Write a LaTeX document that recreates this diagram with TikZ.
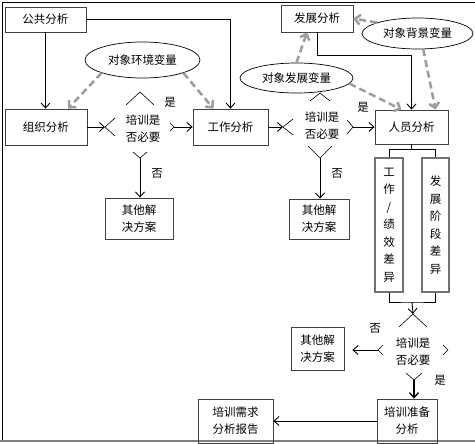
\documentclass[tikz,border=0pt]{standalone}
\usepackage{fontspec}
\newfontfamily\cjk{Noto Sans CJK SC}
\usetikzlibrary{arrows.meta,shapes.geometric,calc}
\begin{document}
\begin{tikzpicture}[x=1pt,y=-1pt,
  every node/.style={font=\cjk\fontsize{11.5}{17}\selectfont, inner sep=0pt},
  box/.style={draw=black!75, line width=0.8pt, align=center},
  vbox/.style={draw=black!55, line width=1.2pt, align=center, font=\cjk\fontsize{11.5}{17.5}\selectfont},
  ell/.style={draw=black, line width=0.7pt, ellipse},
  arr/.style={draw=black, line width=0.9pt, -{Straight Barb[length=5pt,width=9pt]}},
  dasharr/.style={draw=black!38, line width=2.6pt, dash pattern=on 7pt off 4pt, -{Straight Barb[length=5pt,width=10pt]}},
  corner/.style={draw=black, line width=0.6pt},
  frame/.style={draw=black, line width=0.9pt}]
\useasboundingbox (0,0) rectangle (475,444);
% frame
\draw[frame] (475,2) -- (2,2) -- (2,441);
\draw[draw=black!50, line width=2.6pt] (0,441) -- (475,441);

% boxes
\node[box, minimum width=81pt, minimum height=25pt] (gg) at (45.5,19.5) {公共分析};
\node[box, minimum width=82pt, minimum height=36pt] (zz) at (46,127) {组织分析};
\node[box, minimum width=75pt, minimum height=36pt] (gz) at (230.5,127) {工作分析};
\node[box, minimum width=72pt, minimum height=27pt] (fz) at (317,18.5) {发展分析};
\node[box, minimum width=73pt, minimum height=34pt] (ry) at (411.5,127) {人员分析};
\node[box, minimum width=68pt, minimum height=41pt] (q1) at (139,218.5) {其他解\\决方案};
\node[box, minimum width=60pt, minimum height=40pt] (q2) at (319,219) {其他解\\决方案};
\node[box, minimum width=53pt, minimum height=43pt] (q3) at (317.5,348.5) {其他解\\决方案};
\node[vbox, minimum width=28pt, minimum height=134pt] (v1) at (389,225) {工\\作\\/\\绩\\效\\差\\异};
\node[vbox, minimum width=27pt, minimum height=134pt] (v2) at (435.5,225) {发\\展\\阶\\段\\差\\异};
\node[box, minimum width=60pt, minimum height=44pt] (zb) at (407,421) {培训准备\\分析};
\node[box, minimum width=75pt, minimum height=44pt] (bg) at (235.5,421) {培训需求\\分析报告};

% ellipses
\node[ell, minimum width=115pt, minimum height=36pt] (e1) at (142.5,60) {对象环境变量};
\node[ell, minimum width=111pt, minimum height=31pt] (e2) at (417.5,33.5) {对象背景变量};
\node[ell, minimum width=113pt, minimum height=30pt] (e3) at (296.5,78) {对象发展变量};

% diamonds (text + corner marks)
\node[align=center] (d1) at (143,129) {培训是\\否必要};
\node[align=center] (d2) at (322,125.5) {培训是\\否必要};
\node[align=center] (d3) at (413,351.5) {培训是\\否必要};
\coordinate (d1t) at (140,92);  \coordinate (d1l) at (105,127);
\coordinate (d1b) at (140,158); \coordinate (d1r) at (174,127);
\coordinate (d2t) at (320,93);  \coordinate (d2l) at (283,127);
\coordinate (d2b) at (320,158); \coordinate (d2r) at (353,127);
\coordinate (d3t) at (413,314); \coordinate (d3l) at (378,350);
\coordinate (d3b) at (414,380); \coordinate (d3r) at (448,350);

\draw[corner] ($(d1t)+(-14,13)$) -- (d1t) -- ($(d1t)+(14,13)$);
\draw[corner] ($(d1l)+(10,-9)$) -- (d1l) -- ($(d1l)+(10,9)$);
\draw[corner] ($(d1b)+(-7,-6)$) -- (d1b) -- ($(d1b)+(7,-6)$);
\draw[corner] ($(d1r)+(-4,-4)$) -- (d1r) -- ($(d1r)+(-4,4)$);

\draw[corner] ($(d2t)+(-10,8)$) -- (d2t) -- ($(d2t)+(10,8)$);
\draw[corner] ($(d2l)+(10,-8)$) -- (d2l) -- ($(d2l)+(10,8)$);
\draw[corner] ($(d2b)+(-12,-12)$) -- (d2b) -- ($(d2b)+(12,-12)$);
\draw[corner] ($(d2r)+(-6,-7)$) -- (d2r) -- ($(d2r)+(-6,7)$);

\draw[corner] ($(d3t)+(-14,13)$) -- (d3t) -- ($(d3t)+(14,13)$);
\draw[corner] ($(d3l)+(5,-5)$) -- (d3l) -- ($(d3l)+(5,5)$);
\draw[corner] ($(d3b)+(-8,-7)$) -- (d3b) -- ($(d3b)+(8,-7)$);
\draw[corner] ($(d3r)+(-5,-5)$) -- (d3r) -- ($(d3r)+(-5,5)$);

% solid connectors
\draw[arr] (gg.south) -- (gg.south |- zz.north);
\draw[arr] (gg.east) -| (gz.north);
\draw[arr] (fz.south) -- ++(0,23) -| (ry.north);
\draw[arr] (zz.east) -- (d1l);
\draw[arr] (d1r) -- (gz.west);
\draw[arr] (d1b) -- (d1b |- q1.north);
\draw[arr] (gz.east) -- (d2l);
\draw[arr] (d2r) -- (ry.west);
\draw[arr] (d2b) -- (d2b |- q2.north);
\draw[line width=0.9pt] (ry.south) -- ++(0,5) coordinate (s1);
\draw[line width=0.9pt] (v1.north) |- (s1) -| (v2.north);
\coordinate (s2) at (412,302);
\draw[line width=0.9pt] (v1.south) |- (s2) -| (v2.south);
\draw[arr] (s2) -- (d3t);
\draw[arr, shorten >=8pt] (d3l) -- (d3l -| q3.east);
\draw[arr, line width=1.3pt] (d3b) -- (d3b |- zb.north);
\draw[arr] (zb.west) -- (bg.east);

% dashed connectors
\draw[dasharr] (e1.south west) -- ([xshift=22pt]zz.north);
\draw[dasharr] (e1.south east) -- ([xshift=-17pt]gz.north);
\draw[dasharr] (e3.north) -- ([xshift=-10pt]fz.south);
\draw[dasharr] (e3.-6) -- ([xshift=-10pt]ry.north);
\draw[dasharr] (e2.165) -- (fz.east);
\draw[dasharr] (e2.-70) -- ([xshift=24pt]ry.north);

% labels
\node (l1) at (170,102) {是};
\node (l2) at (157,173) {否};
\node (l3) at (363,107) {是};
\node (l4) at (337,173) {否};
\node (l5) at (375,328) {否};
\node (l6) at (440,380) {是};
\end{tikzpicture}
\end{document}
